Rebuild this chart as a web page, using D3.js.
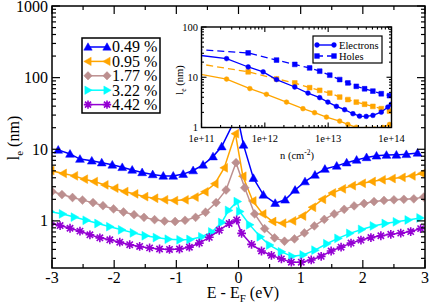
<!DOCTYPE html>
<html lang="en">
<head>
<meta charset="UTF-8">
<title>l_e vs E - E_F</title>
<script src="https://cdn.jsdelivr.net/npm/d3@7/dist/d3.min.js"></script>
<style>
    body { margin: 0; background: #fff; }
    svg { display: block; }
</style>
</head>
<body>
<svg width="437" height="308"></svg>
<script>
    // main plot data: [E - E_F (eV), l_e (nm)]
    var s049 = [[-2.90,9.8],[-2.71,8.6],[-2.55,7.3],[-2.36,6.9],[-2.20,6.5],[-2.03,6.06],[-1.87,5.6],[-1.71,5.15],
        [-1.55,4.75],[-1.38,4.45],[-1.21,4.25],[-1.05,4.25],[-0.89,4.5],[-0.73,5.05],[-0.57,6.06],[-0.41,7.9],
        [-0.27,10.9],[-0.02,30],[0.08,11.5],[0.24,3.95],[0.40,2.31],[0.59,1.77],[0.75,1.97],[0.91,2.7],[1.07,3.54],
        [1.23,4.39],[1.39,5.3],[1.58,5.86],[1.74,6.5],[1.90,7.1],[2.06,7.7],[2.22,8.1],[2.38,8.3],[2.54,8.35],
        [2.70,8.5],[2.88,8.9]];
    var s095 = [[-3.02,5.04],[-2.82,4.6],[-2.64,4.25],[-2.48,3.82],[-2.32,3.54],[-2.15,3.18],[-1.99,2.86],[-1.83,2.57],
        [-1.67,2.38],[-1.51,2.18],[-1.35,2.07],[-1.19,1.97],[-1.03,1.92],[-0.86,1.97],[-0.70,2.15],[-0.54,2.55],
        [-0.38,3.3],[-0.23,5.5],[-0.05,16.5],[0.07,4.2],[0.23,1.9],[0.39,1.25],[0.55,0.98],[0.71,0.93],[0.87,1.0],
        [1.03,1.17],[1.19,1.55],[1.35,2.0],[1.51,2.45],[1.67,2.8],[1.83,3.1],[1.99,3.35],[2.15,3.55],[2.31,3.75],
        [2.47,3.9],[2.63,4.05],[2.79,4.25],[2.95,4.6]];
    var s177 = [[-3.0,2.57],[-2.84,2.33],[-2.67,2.12],[-2.51,1.95],[-2.34,1.8],[-2.18,1.63],[-2.01,1.47],[-1.85,1.33],
        [-1.68,1.22],[-1.52,1.12],[-1.35,1.04],[-1.19,0.99],[-1.02,0.98],[-0.86,1.02],[-0.69,1.12],[-0.53,1.32],
        [-0.36,1.8],[-0.20,2.7],[-0.04,6.5],[0.10,2.9],[0.26,1.25],[0.42,0.78],[0.58,0.58],[0.74,0.52],[0.90,0.56],
        [1.06,0.68],[1.22,0.85],[1.38,1.05],[1.54,1.25],[1.70,1.45],[1.86,1.62],[2.02,1.75],[2.18,1.86],[2.34,1.93],
        [2.50,1.97],[2.66,2.0],[2.82,2.03],[2.98,2.15]];
    var s322 = [[-3.03,1.35],[-2.83,1.25],[-2.64,1.13],[-2.45,1.02],[-2.26,0.92],[-2.07,0.83],[-1.88,0.75],[-1.69,0.68],
        [-1.50,0.62],[-1.32,0.585],[-1.13,0.555],[-0.94,0.545],[-0.78,0.55],[-0.59,0.6],[-0.43,0.7],[-0.27,0.95],
        [-0.16,1.4],[-0.02,1.86],[0.02,1.35],[0.18,0.88],[0.35,0.6],[0.50,0.46],[0.69,0.37],[0.86,0.32],[1.04,0.335],
        [1.23,0.39],[1.42,0.48],[1.60,0.57],[1.79,0.67],[1.98,0.76],[2.17,0.85],[2.36,0.92],[2.54,0.97],[2.73,1.03],
        [2.92,1.1]];
    var s442 = [[-3.03,0.93],[-2.87,0.86],[-2.71,0.79],[-2.55,0.72],[-2.39,0.64],[-2.23,0.58],[-2.07,0.545],[-1.91,0.505],
        [-1.75,0.465],[-1.59,0.44],[-1.43,0.42],[-1.27,0.405],[-1.11,0.40],[-0.95,0.405],[-0.79,0.43],[-0.63,0.49],
        [-0.47,0.59],[-0.31,0.74],[-0.15,0.92],[-0.03,1.03],[0.05,0.67],[0.21,0.47],[0.37,0.38],[0.53,0.33],[0.69,0.295],
        [0.85,0.265],[1.01,0.265],[1.17,0.285],[1.33,0.32],[1.49,0.38],[1.65,0.43],[1.81,0.49],[1.97,0.54],[2.13,0.585],
        [2.29,0.62],[2.45,0.65],[2.61,0.675],[2.77,0.71],[2.93,0.78]];
    var seriesNames = ["0.49 %", "0.95 %", "1.77 %", "3.22 %", "4.42 %"];
    var xTickVals = [-3, -2, -1, 0, 1, 2, 3];
    var yTickVals = [1, 10, 100, 1000];

    // inset data: [n (cm^-2), l_e (nm)]
    var elecBlue = [[8e10,28],[2.49e11,23.5],[5.46e11,16],[9.4e11,12.8],[1.53e12,9.0],[2.97e12,6.4],[4.8e12,4.85],
        [7.35e12,3.93],[9.9e12,3.2],[1.35e13,2.63],[1.82e13,2.26],[2.46e13,1.88],[3.13e13,1.68],[3.99e13,1.66],
        [5.08e13,1.74],[6.89e13,2.02],[8.75e13,2.55],[9.9e13,2.9]];
    var holeBlue = [[8e10,36],[5.46e11,30.5],[1.53e12,22],[2.97e12,18],[5.1e12,15.3],[7.35e12,13.2],[1.06e13,11],
        [1.52e13,9.0],[2.05e13,7.7],[2.78e13,6.6],[3.76e13,5.9],[5.08e13,5.3],[6.89e13,4.7],[9.3e13,4.3]];
    var elecOrange = [[8e10,12],[2.49e11,9.2],[5.8e11,5.95],[1.06e12,4.57],[2.2e12,3.2],[4.0e12,2.37],[6.1e12,1.97],
        [9.4e12,1.61],[1.52e13,1.34],[2.05e13,1.15],[2.78e13,1.01],[3.99e13,0.93],[5.4e13,0.93],[7.3e13,1.0],
        [9.3e13,1.15]];
    var holeOrange = [[8e10,19],[5.46e11,12.8],[1.53e12,9.3],[2.97e12,7.7],[5.1e12,6.2],[7.35e12,5.5],[1.06e13,4.85],
        [1.52e13,4.04],[2.05e13,3.6],[2.78e13,3.2],[3.76e13,2.9],[5.08e13,2.63],[6.89e13,2.37],[9.3e13,2.12]];
    var insetXTicks = [1e11, 1e12, 1e13, 1e14];
    var insetYTicks = [1, 10, 100];

    var colors = ["#0000ff", "#ffa500", "#bc8f8f", "#00ffff", "#9400d3"];
    var shapes = ["up", "left", "diamond", "right", "star"];
    var FONT = "'Liberation Serif'";

    var svg = d3.select("svg");

    var x = d3.scaleLinear().domain([-3, 3]).range([52, 425]);
    var y = d3.scaleLog().domain([0.22, 1000]).range([268, 6]);
    var xi = d3.scaleLog().domain([1e11, 1e14]).range([201.5, 391.5]);
    var yi = d3.scaleLog().domain([1, 100]).range([127.5, 27]);

    function txt(g) {
        return g.append("text").style("font-family", FONT).attr("fill", "#000");
    }

    function markerPath(type, r) {
        var k = 0.75;
        if (type === "up") return "M0," + (-r) + "L" + r + "," + (k * r) + "L" + (-r) + "," + (k * r) + "Z";
        if (type === "left") return "M" + (-r) + ",0L" + (k * r) + "," + (-r) + "L" + (k * r) + "," + r + "Z";
        if (type === "right") return "M" + r + ",0L" + (-k * r) + "," + (-r) + "L" + (-k * r) + "," + r + "Z";
        if (type === "diamond") return "M0," + (-r) + "L" + r + ",0L0," + r + "L" + (-r) + ",0Z";
        if (type === "circle") return "M" + r + ",0A" + r + "," + r + " 0 1,1 " + (-r) + ",0A" + r + "," + r + " 0 1,1 " + r + ",0Z";
        if (type === "square") return "M" + (-r) + "," + (-r) + "H" + r + "V" + r + "H" + (-r) + "Z";
        // asterisk
        var d = r * 0.72;
        return "M0," + (-r) + "V" + r + "M" + (-r) + ",0H" + r +
            "M" + (-d) + "," + (-d) + "L" + d + "," + d + "M" + (-d) + "," + d + "L" + d + "," + (-d);
    }

    function drawMarker(g, type, color, r, px, py) {
        var p = g.append("path")
            .attr("d", markerPath(type, r))
            .attr("transform", "translate(" + px + "," + py + ")");
        if (type === "star") {
            p.attr("fill", "none").attr("stroke", color).attr("stroke-width", 1.6);
        } else {
            p.attr("fill", color).attr("stroke", color).attr("stroke-width", 0.5);
        }
    }

    function logMinors(lo, hi) {
        var out = [];
        for (var e = -2; e <= 15; e++) {
            for (var m = 2; m <= 9; m++) {
                var v = m * Math.pow(10, e);
                if (v > lo && v < hi) out.push(v);
            }
        }
        return out;
    }

    function frameTicks(g, sx, sy, xMaj, xMin, yMaj, yMin, lMaj, lMin, w) {
        var x0 = sx.range()[0], x1 = sx.range()[1];
        var y0 = sy.range()[0], y1 = sy.range()[1];
        function tick(a, b, c, d) {
            g.append("line").attr("x1", a).attr("y1", b).attr("x2", c).attr("y2", d)
                .attr("stroke", "#000").attr("stroke-width", w);
        }
        xMaj.forEach(function (v) { tick(sx(v), y0, sx(v), y0 - lMaj); tick(sx(v), y1, sx(v), y1 + lMaj); });
        xMin.forEach(function (v) { tick(sx(v), y0, sx(v), y0 - lMin); tick(sx(v), y1, sx(v), y1 + lMin); });
        yMaj.forEach(function (v) { tick(x0, sy(v), x0 + lMaj, sy(v)); tick(x1, sy(v), x1 - lMaj, sy(v)); });
        yMin.forEach(function (v) { tick(x0, sy(v), x0 + lMin, sy(v)); tick(x1, sy(v), x1 - lMin, sy(v)); });
        g.append("rect").attr("x", x0).attr("y", y1).attr("width", x1 - x0).attr("height", y0 - y1)
            .attr("fill", "none").attr("stroke", "#000").attr("stroke-width", w + 0.3);
    }

    var defs = svg.append("defs");
    defs.append("clipPath").attr("id", "clipMain").append("rect")
        .attr("x", 52).attr("y", 6).attr("width", 373).attr("height", 262);
    defs.append("clipPath").attr("id", "clipInset").append("rect")
        .attr("x", 201.5).attr("y", 27).attr("width", 190).attr("height", 100.5);

    // ---- main plot ----
    var line = d3.line().x(function (d) { return x(d[0]); }).y(function (d) { return y(d[1]); });
    var mainG = svg.append("g").attr("clip-path", "url(#clipMain)");
    [s049, s095, s177, s322, s442].forEach(function (s, i) {
        mainG.append("path").datum(s).attr("d", line)
            .attr("fill", "none").attr("stroke", colors[i]).attr("stroke-width", 1.5);
        s.forEach(function (d) { drawMarker(mainG, shapes[i], colors[i], 4.4, x(d[0]), y(d[1])); });
    });

    var axG = svg.append("g");
    frameTicks(axG, x, y, xTickVals, [-2.5, -1.5, -0.5, 0.5, 1.5, 2.5], yTickVals, logMinors(0.22, 1000), 8, 4, 1.2);

    xTickVals.forEach(function (d) {
        txt(axG).attr("x", x(d)).attr("y", 283).attr("text-anchor", "middle").attr("font-size", 16).text(d);
    });
    yTickVals.forEach(function (d) {
        txt(axG).attr("x", 48).attr("y", y(d) + 5.5).attr("text-anchor", "end").attr("font-size", 16).text(d);
    });

    var xl = txt(axG).attr("x", 243).attr("y", 298).attr("text-anchor", "middle").attr("font-size", 16);
    xl.append("tspan").text("E - E");
    xl.append("tspan").attr("font-size", 11).attr("dy", 4).text("F");
    xl.append("tspan").attr("dy", -4).text(" (eV)");

    var yl = txt(axG).attr("transform", "translate(19,138) rotate(-90)")
        .attr("text-anchor", "middle").attr("font-size", 16);
    yl.append("tspan").text("l");
    yl.append("tspan").attr("font-size", 11).attr("dy", 4).text("e");
    yl.append("tspan").attr("dy", -4).text(" (nm)");

    // main legend
    var leg = svg.append("g");
    leg.append("rect").attr("x", 82).attr("y", 38).attr("width", 78).attr("height", 75)
        .attr("fill", "#fff").attr("stroke", "#000").attr("stroke-width", 1.5);
    seriesNames.forEach(function (name, i) {
        var ly = 47 + i * 14.4;
        leg.append("line").attr("x1", 88).attr("x2", 107).attr("y1", ly).attr("y2", ly)
            .attr("stroke", colors[i]).attr("stroke-width", 1.5);
        drawMarker(leg, shapes[i], colors[i], 4.2, 88, ly);
        drawMarker(leg, shapes[i], colors[i], 4.2, 107, ly);
        txt(leg).attr("x", 112).attr("y", ly + 5.3).attr("font-size", 16).text(name);
    });

    // ---- inset ----
    svg.append("rect").attr("x", 201.5).attr("y", 27).attr("width", 190).attr("height", 100.5).attr("fill", "#fff");
    var lineI = d3.line().x(function (d) { return xi(d[0]); }).y(function (d) { return yi(d[1]); });
    var insG = svg.append("g").attr("clip-path", "url(#clipInset)");
    var insetSets = [
        { data: holeBlue, color: colors[0], dash: "7,4", mk: "square" },
        { data: holeOrange, color: colors[1], dash: "7,4", mk: "square" },
        { data: elecOrange, color: colors[1], dash: null, mk: "circle" },
        { data: elecBlue, color: colors[0], dash: null, mk: "circle" }
    ];
    insetSets.forEach(function (s) {
        insG.append("path").datum(s.data).attr("d", lineI)
            .attr("fill", "none").attr("stroke", s.color).attr("stroke-width", 1.3)
            .attr("stroke-dasharray", s.dash);
        s.data.forEach(function (d) { drawMarker(insG, s.mk, s.color, 2.4, xi(d[0]), yi(d[1])); });
    });

    var inAx = svg.append("g");
    frameTicks(inAx, xi, yi, insetXTicks, logMinors(1e11, 1e14), insetYTicks, logMinors(1, 100), 5, 2.5, 1.1);
    insetXTicks.forEach(function (d) {
        txt(inAx).attr("x", xi(d)).attr("y", 142).attr("text-anchor", "middle").attr("font-size", 10.5)
            .text("1e+" + Math.round(Math.log10(d)));
    });
    insetYTicks.forEach(function (d) {
        txt(inAx).attr("x", 198).attr("y", yi(d) + 3.5).attr("text-anchor", "end").attr("font-size", 10.5).text(d);
    });

    var ixl = txt(inAx).attr("x", 297).attr("y", 159).attr("text-anchor", "middle").attr("font-size", 10.5);
    ixl.append("tspan").text("n (cm");
    ixl.append("tspan").attr("font-size", 7.5).attr("dy", -4).text("-2");
    ixl.append("tspan").attr("dy", 4).text(")");

    var iyl = txt(inAx).attr("transform", "translate(183,80) rotate(-90)")
        .attr("text-anchor", "middle").attr("font-size", 10.5);
    iyl.append("tspan").text("l");
    iyl.append("tspan").attr("font-size", 7.5).attr("dy", 3).text("e");
    iyl.append("tspan").attr("dy", -3).text(" (nm)");

    // inset legend
    var ileg = svg.append("g");
    ileg.append("rect").attr("x", 313).attr("y", 36).attr("width", 69).attr("height", 27)
        .attr("fill", "#fff").attr("stroke", "#000").attr("stroke-width", 1.2);
    [["Electrons", null, "circle"], ["Holes", "7,4", "square"]].forEach(function (e, i) {
        var ly = 45 + i * 11;
        ileg.append("line").attr("x1", 317).attr("x2", 334).attr("y1", ly).attr("y2", ly)
            .attr("stroke", colors[0]).attr("stroke-width", 1.4).attr("stroke-dasharray", e[1] ? "6,4" : null);
        drawMarker(ileg, e[2], colors[0], 2.4, 317, ly);
        drawMarker(ileg, e[2], colors[0], 2.4, 334, ly);
        txt(ileg).attr("x", 339).attr("y", ly + 3.6).attr("font-size", 10.5).text(e[0]);
    });
</script>
</body>
</html>
